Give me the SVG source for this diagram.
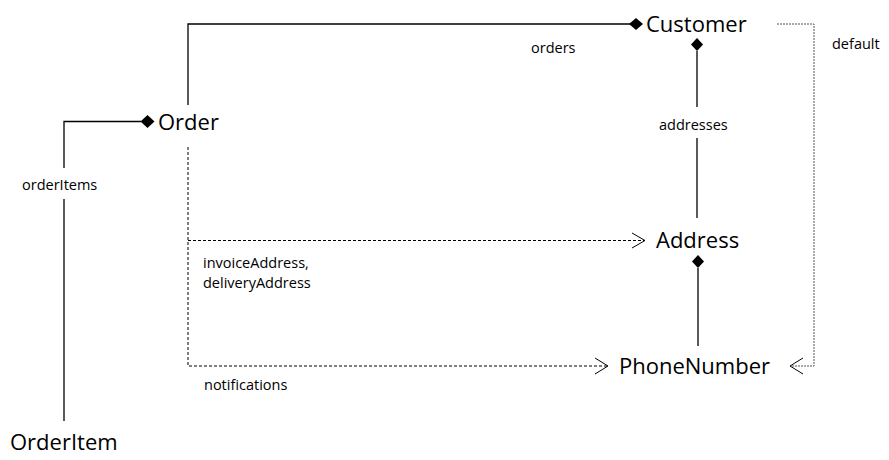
<svg xmlns="http://www.w3.org/2000/svg" width="889" height="460" viewBox="0 0 889 460">
<defs>
<style>
.node{font-family:"Open Sans","Noto Sans",sans-serif;font-size:22px;fill:#000}
.lbl{font-family:"Open Sans","Noto Sans",sans-serif;font-size:14.5px;fill:#000}
.solid{fill:none;stroke:#000;stroke-width:1.3}
.dash{fill:none;stroke:#000;stroke-width:1;stroke-dasharray:3,2}
.dot{fill:none;stroke:#555;stroke-width:1;stroke-dasharray:2,1}
.dia{fill:#000}
.arr{fill:none;stroke:#000;stroke-width:1}
</style>
</defs>
<rect width="889" height="460" fill="#fff"/>
<g id="connectors">
<!-- Order -> Customer (orders) -->
<polyline class="solid" points="188,105 188,24 630,24"/>
<polygon class="dia" points="629,24 636,18 643,24 636,30"/>
<text class="lbl" x="531" y="53">orders</text>
<!-- Customer -> Address (addresses) -->
<polygon class="dia" points="697,38 703,44.5 697,51 691,44.5"/>
<line class="solid" x1="697" y1="51" x2="697" y2="107"/>
<line class="solid" x1="697" y1="138" x2="697" y2="218"/>
<text class="lbl" x="659" y="130">addresses</text>
<!-- Customer -> PhoneNumber (default) -->
<polyline class="dot" points="777,24 814,24 814,366 790,366"/>
<polyline class="arr" points="803,358 790,366 803,374"/>
<text class="lbl" x="832" y="49">default</text>
<!-- OrderItem -> Order (orderItems) -->
<polyline class="solid" points="64,168 64,121.5 141,121.5"/>
<polygon class="dia" points="140.5,121.5 147.5,115 154.5,121.5 147.5,128"/>
<line class="solid" x1="64" y1="199" x2="64" y2="421"/>
<text class="lbl" x="22" y="190">orderItems</text>
<!-- Order -> Address (invoiceAddress, deliveryAddress) -->
<polyline class="dash" points="188,147 188,366 607,366"/>
<line class="dash" x1="188" y1="240.5" x2="645" y2="240.5"/>
<polyline class="arr" points="632,233 645,240.5 632,248"/>
<text class="lbl" x="203" y="268">invoiceAddress,</text>
<text class="lbl" x="203" y="288">deliveryAddress</text>
<!-- notifications -->
<polyline class="arr" points="595,358 608,366 595,374"/>
<text class="lbl" x="204" y="390">notifications</text>
<!-- Address -> PhoneNumber -->
<polygon class="dia" points="698,255 704,261.5 698,268 692,261.5"/>
<line class="solid" x1="698" y1="268" x2="698" y2="346"/>
</g>
<g id="Customer"><text class="node" x="646" y="32">Customer</text></g>
<g id="Order"><text class="node" x="158" y="130">Order</text></g>
<g id="Address"><text class="node" x="656" y="248">Address</text></g>
<g id="PhoneNumber"><text class="node" x="619" y="374">PhoneNumber</text></g>
<g id="OrderItem"><text class="node" x="10" y="450">OrderItem</text></g>
</svg>
